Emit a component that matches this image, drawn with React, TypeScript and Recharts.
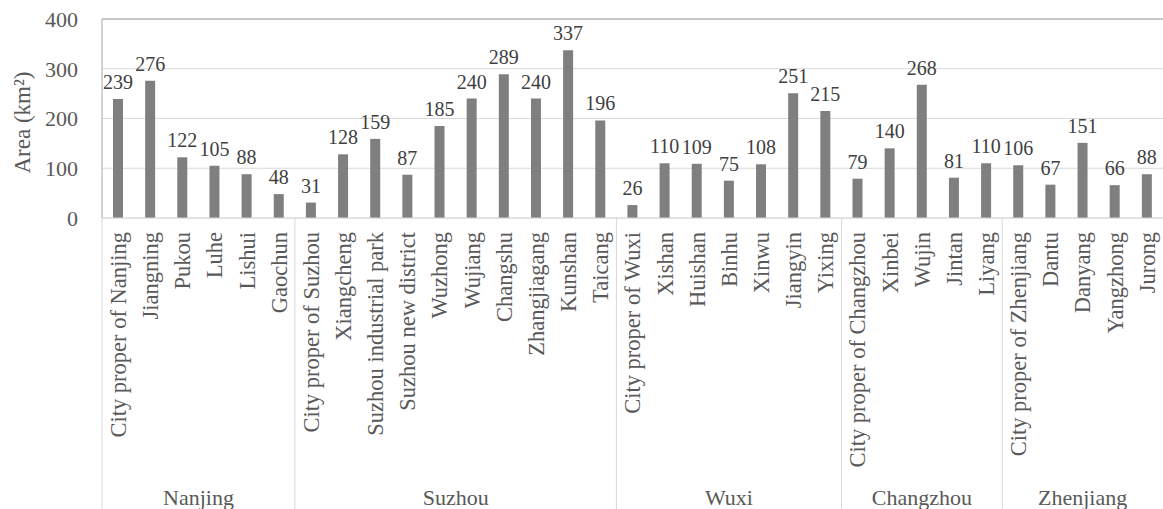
import React from 'react'
import { BarChart, Bar, XAxis, YAxis, CartesianGrid, LabelList, ReferenceLine } from 'recharts'

// districts and built-up area (km²) per city
const cities = ['Nanjing', 'Suzhou', 'Wuxi', 'Changzhou', 'Zhenjiang']

const nanjingDistricts = ['City proper of Nanjing', 'Jiangning', 'Pukou', 'Luhe', 'Lishui', 'Gaochun']
const nanjingArea = [239, 276, 122, 105, 88, 48]

const suzhouDistricts = [
  'City proper of Suzhou', 'Xiangcheng', 'Suzhou industrial park', 'Suzhou new district', 'Wuzhong',
  'Wujiang', 'Changshu', 'Zhangjiagang', 'Kunshan', 'Taicang',
]
const suzhouArea = [31, 128, 159, 87, 185, 240, 289, 240, 337, 196]

const wuxiDistricts = ['City proper of Wuxi', 'Xishan', 'Huishan', 'Binhu', 'Xinwu', 'Jiangyin', 'Yixing']
const wuxiArea = [26, 110, 109, 75, 108, 251, 215]

const changzhouDistricts = ['City proper of Changzhou', 'Xinbei', 'Wujin', 'Jintan', 'Liyang']
const changzhouArea = [79, 140, 268, 81, 110]

const zhenjiangDistricts = ['City proper of Zhenjiang', 'Dantu', 'Danyang', 'Yangzhong', 'Jurong']
const zhenjiangArea = [106, 67, 151, 66, 88]

const yTicks = [0, 100, 200, 300, 400]

const groups = [
  { city: cities[0], names: nanjingDistricts, values: nanjingArea },
  { city: cities[1], names: suzhouDistricts, values: suzhouArea },
  { city: cities[2], names: wuxiDistricts, values: wuxiArea },
  { city: cities[3], names: changzhouDistricts, values: changzhouArea },
  { city: cities[4], names: zhenjiangDistricts, values: zhenjiangArea },
]

const data = groups.flatMap(g => g.names.map((name, i) => ({ name, area: g.values[i] })))

// index of the first district of each city -> city and its district count
const groupStart: Record<number, { city: string; size: number }> = {}
let acc = 0
groups.forEach(g => {
  groupStart[acc] = { city: g.city, size: g.names.length }
  acc += g.names.length
})

const FONT = 'Liberation Serif'
const AXIS_H = 291
const TICK_GAP = 14

const CategoryTick = ({ x, y, payload, index }: any) => {
  const half = payload.offset ?? 16
  const grp = groupStart[index]
  const top = y - TICK_GAP
  return (
    <g>
      <text
        transform={`translate(${x},${y}) rotate(-90)`}
        textAnchor="end"
        dy="0.35em"
        fontSize={22.5}
        fill="#595959"
        fontFamily={FONT}
      >
        {payload.value}
      </text>
      {grp && (
        <>
          <line x1={x - half} x2={x - half} y1={top} y2={top + AXIS_H} stroke="#d9d9d9" strokeWidth={1} />
          <text
            x={x - half + grp.size * half}
            y={top + AXIS_H - 4}
            textAnchor="middle"
            fontSize={22}
            fill="#595959"
            fontFamily={FONT}
          >
            {grp.city}
          </text>
        </>
      )}
    </g>
  )
}

const YLabel = ({ viewBox }: any) => {
  const cx = viewBox.x + 22
  const cy = viewBox.y + viewBox.height / 2 + 4
  return (
    <text
      transform={`translate(${cx},${cy}) rotate(-90)`}
      textAnchor="middle"
      dy="0.35em"
      fontSize={23}
      fill="#595959"
      fontFamily={FONT}
    >
      Area (km²)
    </text>
  )
}

export default function App() {
  return (
    <div style={{ position: 'absolute', left: 0, top: 0, fontFamily: FONT }}>
      <BarChart width={1163} height={509} data={data} margin={{ top: 19, right: 0, bottom: 0, left: 0 }}>
        <CartesianGrid vertical={false} stroke="#d9d9d9" />
        <XAxis
          dataKey="name"
          height={AXIS_H}
          interval={0}
          tickLine={false}
          tickSize={0}
          tickMargin={TICK_GAP}
          axisLine={{ stroke: '#d9d9d9' }}
          tick={<CategoryTick />}
        />
        <YAxis
          width={102}
          domain={[0, 400]}
          ticks={yTicks}
          interval={0}
          tickLine={false}
          tickSize={0}
          tickMargin={24}
          axisLine={{ stroke: '#a6a6a6' }}
          tick={{ fontSize: 22, fill: '#595959', fontFamily: FONT }}
          label={YLabel}
        />
        <ReferenceLine y={400} stroke="#a6a6a6" />
        <Bar dataKey="area" fill="#7f7f7f" barSize={10} isAnimationActive={false}>
          <LabelList dataKey="area" position="top" offset={10} fill="#404040" fontSize={20} fontFamily={FONT} />
        </Bar>
      </BarChart>
    </div>
  )
}
